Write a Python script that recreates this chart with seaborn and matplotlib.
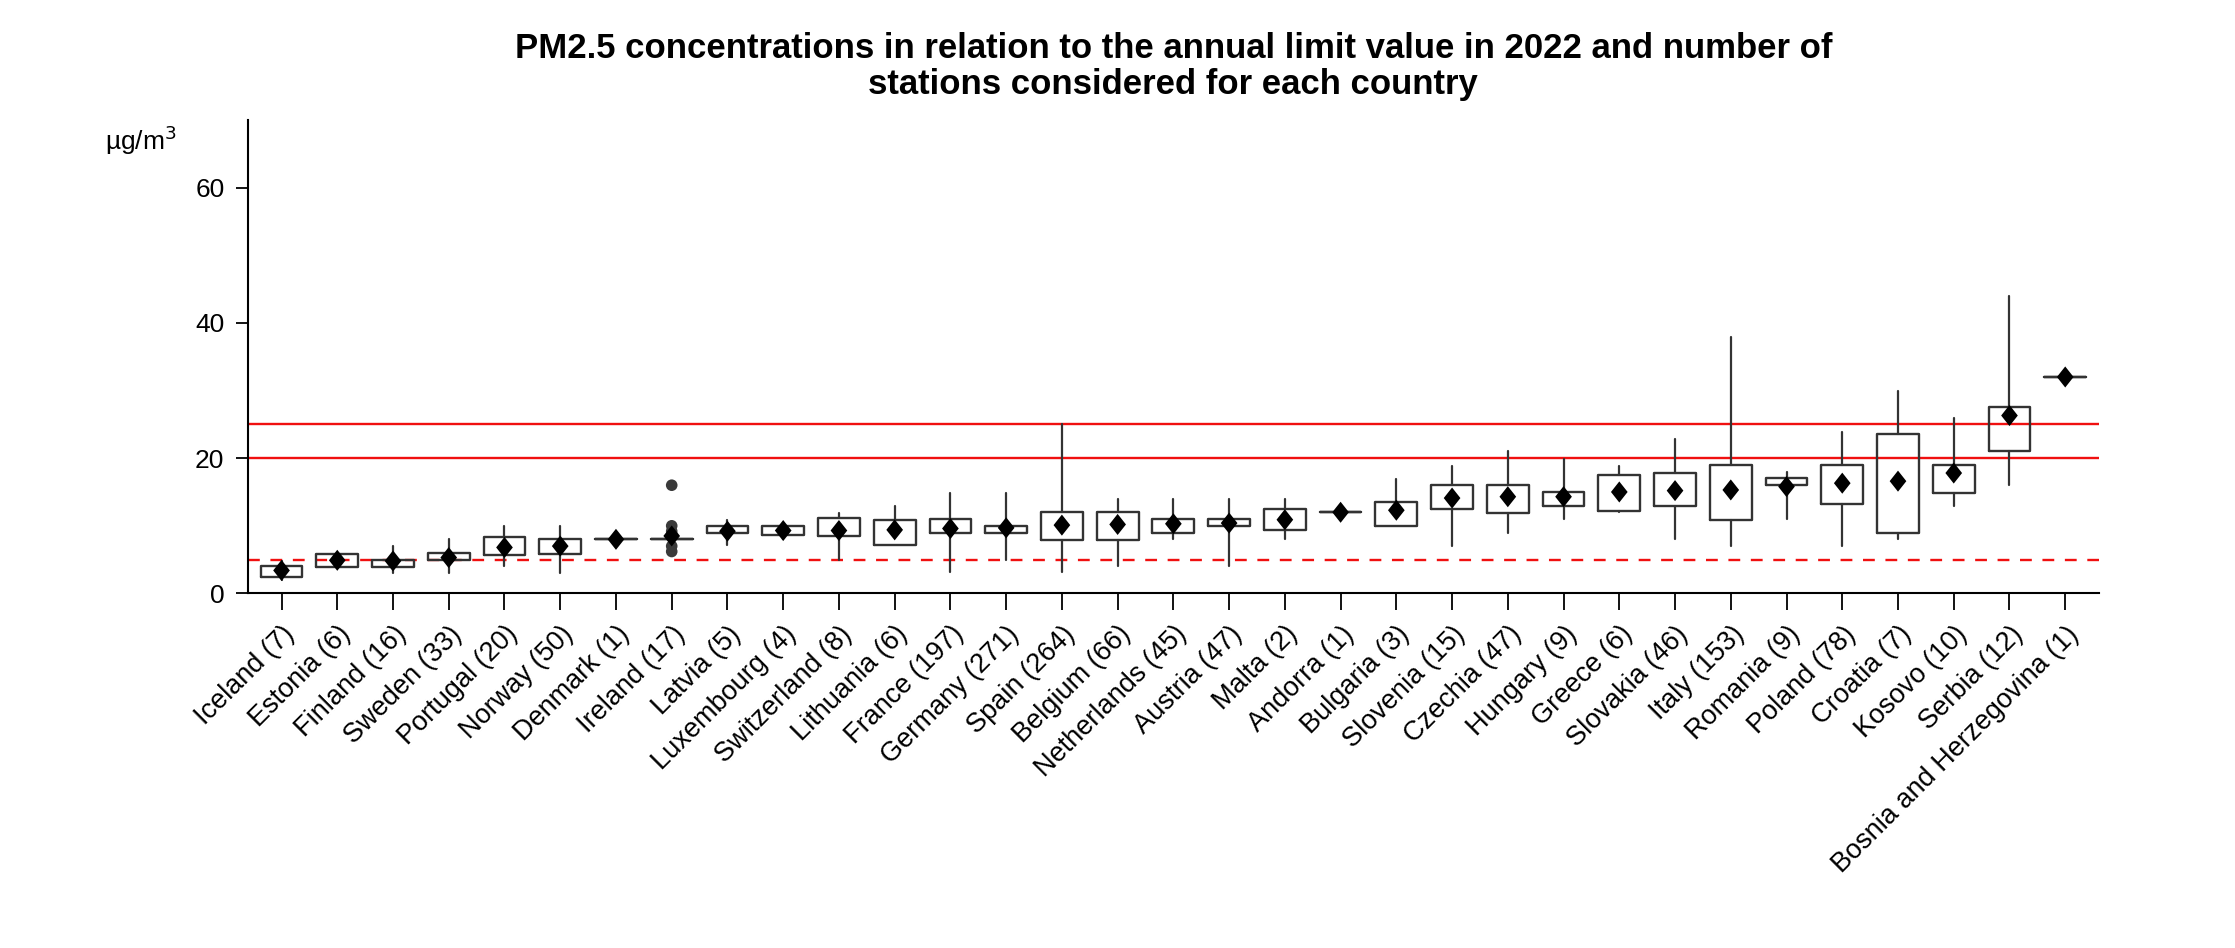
import matplotlib
matplotlib.use('Agg')
import matplotlib.pyplot as plt
import seaborn as sns
import pandas as pd

# =============================================================================
# DATA (µg/m3)
# =============================================================================
countries = ['Iceland', 'Estonia', 'Finland', 'Sweden', 'Portugal', 'Norway', 'Denmark',
             'Ireland', 'Latvia', 'Luxembourg', 'Switzerland', 'Lithuania', 'France',
             'Germany', 'Spain', 'Belgium', 'Netherlands', 'Austria', 'Malta', 'Andorra',
             'Bulgaria', 'Slovenia', 'Czechia', 'Hungary', 'Greece', 'Slovakia', 'Italy',
             'Romania', 'Poland', 'Croatia', 'Kosovo', 'Serbia', 'Bosnia and Herzegovina']
n_stations = [7, 6, 16, 33, 20, 50, 1, 17, 5, 4, 8, 6, 197, 271, 264, 66, 45, 47, 2, 1,
              3, 15, 47, 9, 6, 46, 153, 9, 78, 7, 10, 12, 1]
whis_low = [2.0, 3.9, 3.0, 3.0, 4.1, 3.0, 8.0, 8.0, 7.1, 8.0, 5.0, 7.1, 3.1, 5.0, 3.1, 4.1, 8.0,
            4.1, 8.0, 12.0, 9.9, 7.0, 9.0, 11.0, 12.1, 8.0, 7.0, 11.0, 7.0, 8.0, 13.0, 16.0, 32.0]
q1 = [2.5, 3.9, 3.9, 4.9, 5.7, 5.9, 8.0, 8.0, 9.0, 8.6, 8.5, 7.2, 9.0, 9.0, 7.9, 7.9, 9.0,
      9.9, 9.4, 12.0, 9.9, 12.5, 11.9, 13.0, 12.2, 13.0, 10.9, 16.0, 13.2, 9.0, 14.9, 21.0, 32.0]
q3 = [4.0, 5.8, 5.0, 6.0, 8.3, 8.1, 8.0, 8.0, 10.0, 10.0, 11.1, 10.8, 11.0, 10.0, 12.0, 12.0,
      11.0, 11.0, 12.5, 12.0, 13.5, 16.0, 16.0, 15.0, 17.5, 17.8, 19.0, 17.0, 19.0, 23.6, 19.0,
      27.5, 32.0]
whis_high = [4.8, 5.8, 7.0, 8.0, 10.0, 9.9, 8.0, 8.0, 10.9, 10.0, 11.9, 13.0, 14.9, 14.9, 25.0,
             13.9, 13.9, 13.9, 13.9, 12.0, 16.9, 18.9, 21.0, 19.9, 18.9, 22.9, 37.9, 17.9, 23.9,
             29.9, 26.0, 43.9, 32.0]
means = [3.4, 4.9, 4.8, 5.3, 6.8, 7.0, 8.0, 8.5, 9.2, 9.3, 9.3, 9.4, 9.6, 9.7, 10.1, 10.2,
         10.3, 10.4, 10.9, 12.0, 12.3, 14.1, 14.3, 14.3, 15.0, 15.2, 15.3, 15.8, 16.3, 16.6,
         17.8, 26.3, 32.0]
ireland_outliers = [16.0, 10.0, 9.2, 7.0, 6.2]

limit_values = [25, 20]
who_guideline = 5

labels = [f'{c} ({n})' for c, n in zip(countries, n_stations)]

# =============================================================================
# PLOT
# =============================================================================
sns.set_style('ticks', {'text.color': 'black', 'axes.edgecolor': 'black',
                        'xtick.color': 'black', 'ytick.color': 'black'})
plt.rcParams['font.family'] = ['Liberation Sans', 'DejaVu Sans']

fig = plt.figure(figsize=(22.35, 9.48), dpi=100)
ax = fig.add_axes([0.111, 0.374, 0.828, 0.4995])

# Red reference lines
for v in limit_values:
    ax.axhline(v, color='#f01010', lw=1.7, zorder=1)
ax.axhline(who_guideline, color='#f01010', lw=1.7, ls=(0, (5, 4.5)), zorder=1)

# Boxes from summary stats
stats = []
for i in range(len(countries)):
    stats.append({'whislo': whis_low[i], 'q1': q1[i], 'med': q1[i], 'q3': q3[i],
                  'whishi': whis_high[i], 'fliers': [], 'label': labels[i]})
ax.bxp(stats, positions=range(len(countries)), widths=0.75, showfliers=False,
       showcaps=False, patch_artist=False,
       boxprops=dict(color='#333333', lw=1.7),
       whiskerprops=dict(color='#333333', lw=1.6),
       medianprops=dict(lw=0))

# Outliers for Ireland
out_df = pd.DataFrame({'x': [countries.index('Ireland')] * len(ireland_outliers),
                       'y': ireland_outliers})
sns.scatterplot(data=out_df, x='x', y='y', ax=ax, color='#3a3a3a', s=70,
                edgecolor='none', zorder=3)

# Means (slightly tall diamond)
diamond = [(0, 1.2), (0.95, 0), (0, -1.2), (-0.95, 0)]
mean_df = pd.DataFrame({'x': range(len(countries)), 'y': means})
sns.scatterplot(data=mean_df, x='x', y='y', ax=ax, marker=diamond, color='black', s=230,
                edgecolor='none', zorder=4)

ax.set_xlim(-0.6, len(countries) - 0.4)
ax.set_ylim(0, 70)
ax.set_yticks([0, 20, 40, 60])
ax.set_xticks(range(len(countries)))
ax.set_xticklabels(labels, rotation=45, ha='right', rotation_mode='anchor', fontsize=19.5)
ax.tick_params(axis='y', labelsize=19, length=9, width=1.3, pad=8)
ax.tick_params(axis='x', length=12, width=1.3, pad=8)
ax.set_xlabel('')
ax.set_ylabel('')
sns.despine(ax=ax)
for s in ['left', 'bottom']:
    ax.spines[s].set_linewidth(1.5)

fig.text(0.047, 0.842, r'µg/m$^3$', fontsize=19, ha='left', va='baseline')
fig.suptitle('PM2.5 concentrations in relation to the annual limit value in 2022 and number of\n'
             'stations considered for each country',
             fontsize=25, fontweight='bold', x=0.525, y=0.966, linespacing=1.1)

plt.savefig('out.png', dpi=100)
